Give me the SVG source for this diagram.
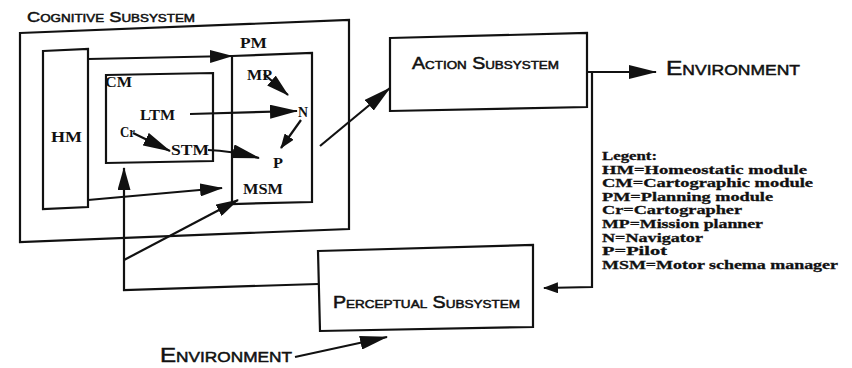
<svg xmlns="http://www.w3.org/2000/svg" width="852" height="368" viewBox="0 0 852 368">
<style>
.box{fill:none;stroke:#111;stroke-width:2.2;stroke-linejoin:miter}
.ln{fill:none;stroke:#111;stroke-width:2.2}
.sc{font-family:"Liberation Sans",Arial,sans-serif;font-variant:small-caps;fill:#111;stroke:#111;stroke-width:0.5}
.lb{font-family:"Liberation Serif","Times New Roman",serif;font-weight:bold;font-size:15px;fill:#111}
.lg{font-family:"Liberation Serif","Times New Roman",serif;font-weight:bold;font-size:13px;fill:#111;stroke:#111;stroke-width:0.3}
</style>
<defs>
<marker id="big" markerUnits="userSpaceOnUse" markerWidth="28" markerHeight="14" refX="27" refY="7" orient="auto"><path d="M0,0 L28,7 L0,14 Z" fill="#111"/></marker>
<marker id="mid" markerUnits="userSpaceOnUse" markerWidth="23" markerHeight="13" refX="22" refY="6.5" orient="auto"><path d="M0,0 L23,6.5 L0,13 Z" fill="#111"/></marker>
<marker id="small" markerUnits="userSpaceOnUse" markerWidth="15" markerHeight="11" refX="14" refY="5.5" orient="auto"><path d="M0,0 L15,5.5 L0,11 Z" fill="#111"/></marker>
</defs>
<rect width="852" height="368" fill="#fff"/>

<g id="cognitive">
<path class="box" d="M20,33 L349,20 L349,229 L20,242 Z"/>
<text class="sc" x="27" y="22" font-size="15" textLength="168" lengthAdjust="spacingAndGlyphs">Cognitive Subsystem</text>
</g>
<g id="hm">
<path class="box" d="M43,51 L88,49 L88,207 L43,209 Z"/>
<text class="lb" x="51" y="142" textLength="31" lengthAdjust="spacingAndGlyphs">HM</text>
</g>
<g id="cm">
<path class="box" d="M106,75 L213,73 L213,161 L106,163 Z"/>
<text class="lb" x="105" y="87" textLength="27" lengthAdjust="spacingAndGlyphs">CM</text>
<text class="lb" x="140" y="120" textLength="35" lengthAdjust="spacingAndGlyphs">LTM</text>
<text class="lb" x="120" y="137" textLength="15" lengthAdjust="spacingAndGlyphs">Cr</text>
<text class="lb" x="171" y="155" textLength="38" lengthAdjust="spacingAndGlyphs">STM</text>
</g>
<g id="pm">
<path class="box" d="M232,56 L312,53 L312,202 L232,204 Z"/>
<text class="lb" x="240" y="48" textLength="27" lengthAdjust="spacingAndGlyphs">PM</text>
<text class="lb" x="247" y="80" textLength="25" lengthAdjust="spacingAndGlyphs">MP</text>
<text class="lb" x="298" y="117" textLength="10" lengthAdjust="spacingAndGlyphs">N</text>
<text class="lb" x="273" y="168" textLength="10" lengthAdjust="spacingAndGlyphs">P</text>
<text class="lb" x="243" y="194" textLength="40" lengthAdjust="spacingAndGlyphs">MSM</text>
</g>
<g id="action">
<path class="box" d="M390,38 L587,33 L587,107 L390,111 Z"/>
<text class="sc" x="412" y="69" font-size="16" textLength="147" lengthAdjust="spacingAndGlyphs">Action Subsystem</text>
</g>
<g id="perceptual">
<path class="box" d="M318,251 L533,245 L533,327 L320,331 Z"/>
<text class="sc" x="333" y="308" font-size="16" textLength="187" lengthAdjust="spacingAndGlyphs">Perceptual Subsystem</text>
</g>
<g id="env-right">
<text class="sc" x="666" y="75" font-size="21" textLength="134" lengthAdjust="spacingAndGlyphs">Environment</text>
</g>
<g id="env-bottom">
<text class="sc" x="160" y="362" font-size="21" textLength="132" lengthAdjust="spacingAndGlyphs">Environment</text>
</g>
<g id="legend">
<text class="lg" x="602" y="160" textLength="55" lengthAdjust="spacingAndGlyphs">Legent:</text>
<text class="lg" x="602" y="173.6" textLength="205" lengthAdjust="spacingAndGlyphs">HM=Homeostatic module</text>
<text class="lg" x="602" y="187.2" textLength="211" lengthAdjust="spacingAndGlyphs">CM=Cartographic module</text>
<text class="lg" x="602" y="200.8" textLength="171" lengthAdjust="spacingAndGlyphs">PM=Planning module</text>
<text class="lg" x="602" y="214.4" textLength="140" lengthAdjust="spacingAndGlyphs">Cr=Cartographer</text>
<text class="lg" x="602" y="228" textLength="161" lengthAdjust="spacingAndGlyphs">MP=Mission planner</text>
<text class="lg" x="602" y="241.6" textLength="101" lengthAdjust="spacingAndGlyphs">N=Navigator</text>
<text class="lg" x="602" y="255.2" textLength="65" lengthAdjust="spacingAndGlyphs">P=Pilot</text>
<text class="lg" x="602" y="268.8" textLength="236" lengthAdjust="spacingAndGlyphs">MSM=Motor schema manager</text>
</g>

<g id="connectors">
<line class="ln" x1="88" y1="59" x2="232" y2="56" marker-end="url(#mid)"/>
<line class="ln" x1="88" y1="200" x2="222" y2="188" marker-end="url(#mid)"/>
<line class="ln" x1="133" y1="133" x2="170" y2="151" marker-end="url(#big)"/>
<line class="ln" x1="190" y1="114" x2="297" y2="111" marker-end="url(#big)"/>
<line class="ln" x1="264" y1="74" x2="288" y2="95" marker-end="url(#mid)"/>
<line class="ln" x1="301" y1="120" x2="281" y2="148" marker-end="url(#small)"/>
<path class="ln" d="M208,150 Q232,151 259,158" marker-end="url(#big)"/>
<line class="ln" x1="320" y1="146" x2="390" y2="88" marker-end="url(#big)"/>
<line class="ln" x1="587" y1="72" x2="656" y2="72" marker-end="url(#big)"/>
<polyline class="ln" points="592,72 592,287 544,288" marker-end="url(#small)"/>
<line class="ln" x1="295" y1="357" x2="387" y2="337" marker-end="url(#big)"/>
<polyline class="ln" points="318,284 124,290 124,168" marker-end="url(#mid)"/>
<line class="ln" x1="124" y1="260" x2="238" y2="200" marker-end="url(#mid)"/>
</g>
</svg>
